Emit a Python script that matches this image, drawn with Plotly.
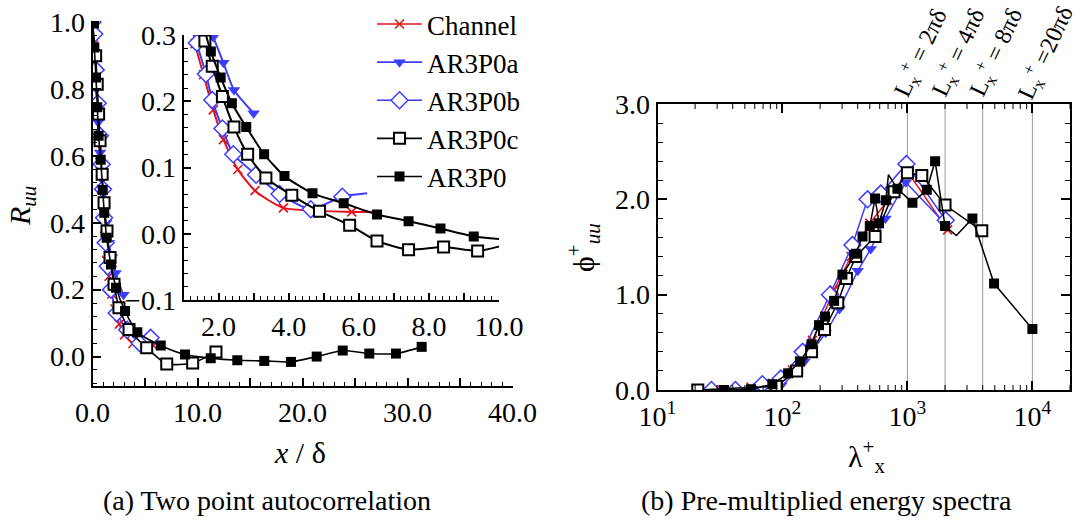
import math
import plotly.graph_objects as go

FONT = "Liberation Serif"
RED = "#e3121b"
BLUE = "#3d3dff"
BLACK = "#000000"
W, H = 1088, 525

# ---------------- (a) two-point autocorrelation, full range ----------------
chan_x = [0, 0.12, 0.25, 0.4, 0.55, 0.7, 0.85, 1.0, 1.15, 1.33, 1.57, 1.85, 2.14, 2.55, 3.04, 3.85, 5.8]
chan_r = [1.0, 0.93, 0.84, 0.75, 0.66, 0.58, 0.5, 0.43, 0.36, 0.287, 0.24, 0.187, 0.142, 0.097, 0.065, 0.039, 0.033]

a_x = [0, 0.2, 0.38, 0.55, 0.72, 0.9, 1.1, 1.3, 1.55, 1.85, 2.2, 2.95]
a_r = [1.0, 0.9, 0.8, 0.7, 0.61, 0.53, 0.46, 0.4, 0.34, 0.297, 0.25, 0.185]

b_x = [0, 0.17, 0.3, 0.5, 0.71, 0.87, 1.0, 1.1, 1.25, 1.45, 1.75, 2.3, 3.3, 4.5, 5.53]
b_r = [1.0, 0.964, 0.857, 0.757, 0.66, 0.575, 0.5, 0.415, 0.34, 0.27, 0.2, 0.13, 0.08, 0.04, 0.056]

c_x = [0, 0.3, 0.45, 0.58, 0.72, 0.92, 1.1, 1.38, 1.67, 2.05, 2.52, 3.48, 5.16, 7.07, 9.54, 11.76]
c_r = [1.0, 0.899, 0.814, 0.725, 0.645, 0.545, 0.46, 0.375, 0.296, 0.216, 0.146, 0.081, 0.026, -0.022, -0.019, 0.014]

p_x = [0, 0.17, 0.33, 0.46, 0.58, 0.78, 0.97, 1.12, 1.35, 1.76, 2.24, 3.1, 4.27, 6.5, 8.81,
       11.26, 13.79, 16.36, 18.9, 21.35, 23.83, 26.36, 28.9, 31.35]
p_r = [1.0, 0.924, 0.834, 0.745, 0.66, 0.588, 0.498, 0.43, 0.355, 0.275, 0.206, 0.136, 0.073, 0.033, 0.006,
       -0.005, -0.011, -0.013, -0.016, 0.0, 0.018, 0.009, 0.009, 0.029]

# ---------------- (a) inset, zoom on 1 < x/δ < 10 ----------------
chan_xi = [1.15, 1.33, 1.57, 1.85, 2.14, 2.55, 3.04, 3.85, 5.80, 6.42]
chan_ri = [0.36, 0.287, 0.240, 0.187, 0.142, 0.097, 0.065, 0.039, 0.033, 0.033]

a_xi = [1.55, 1.85, 2.14, 2.44, 3.0]
a_ri = [0.34, 0.297, 0.258, 0.217, 0.182]

b_xi = [1.2, 1.38, 1.64, 1.82, 2.11, 2.42, 3.07, 3.74, 4.63, 5.53, 6.24]
b_ri = [0.345, 0.288, 0.241, 0.202, 0.159, 0.120, 0.089, 0.060, 0.037, 0.056, 0.061]

c_xi = [1.38, 1.61, 1.82, 2.11, 2.44, 2.83, 3.35, 4.09, 4.88, 5.74, 6.52, 7.42, 8.42, 9.39, 10.3]
c_ri = [0.375, 0.291, 0.253, 0.207, 0.161, 0.12, 0.084, 0.058, 0.034, 0.013, -0.011, -0.024, -0.020, -0.026, -0.015]

p_xi = [1.35, 1.78, 2.06, 2.38, 2.79, 3.3, 3.88, 4.68, 5.57, 6.52, 7.42, 8.33, 9.28, 10.3]
p_ri = [0.355, 0.275, 0.236, 0.197, 0.161, 0.120, 0.087, 0.061, 0.046, 0.029, 0.019, 0.008, -0.004, -0.009]

# ---------------- (b) pre-multiplied spectra ----------------
chan_lam = [33, 56, 83, 120, 174, 259, 354, 500, 700, 1000, 2100]
chan_phi = [0.0, 0.03, 0.07, 0.21, 0.52, 1.05, 1.40, 1.75, 1.99, 2.29, 1.68]

a_lam = [56, 98, 150, 222, 286, 400, 509, 667, 971, 1950]
a_phi = [0.0, 0.05, 0.30, 0.60, 0.85, 1.25, 1.48, 1.80, 2.18, 1.76]

b_lam = [27, 42, 69, 97, 145, 240, 363, 480, 612, 982, 2027]
b_phi = [0.0, 0.0, 0.06, 0.12, 0.40, 1.0, 1.52, 2.0, 2.06, 2.37, 1.78]

c_lam = [21, 89, 130, 171, 217, 277, 325, 386, 551, 782, 1000, 1303, 2000, 3936]
c_phi = [0.0, 0.04, 0.20, 0.40, 0.635, 0.915, 1.17, 1.40, 1.61, 2.08, 2.28, 2.25, 1.94, 1.67]

p_lam = [34, 56, 83, 111, 138, 171, 196, 219, 259, 302, 386, 437, 500, 551, 593, 671, 705, 832,
         1097, 1429, 1665, 2000, 2466, 3311, 4936, 10000]
p_phi = [0.0, 0.007, 0.06, 0.175, 0.30, 0.48, 0.68, 0.77, 0.935, 1.21, 1.43, 1.61, 1.72, 2.01, 1.75, 1.99,
         2.26, 2.11, 1.965, 2.10, 2.40, 1.72, 1.62, 1.80, 1.117, 0.64]

# box lengths marked on the spectra
box_len = [1000, 2000, 4000, 10000]
box_txt = ["2πδ", "4πδ", "8πδ", "20πδ"]

lam_ticks = [10, 100, 1000, 10000]
lam_ticktext = ["10<sup>1</sup>", "10<sup>2</sup>", "10<sup>3</sup>", "10<sup>4</sup>"]
lam_minor = [m * 10 ** k for k in range(1, 5) for m in range(2, 10) if m * 10 ** k <= 20000]
LAM_RANGE = [1, math.log10(20000)]

names = ["Channel", "AR3P0a", "AR3P0b", "AR3P0c", "AR3P0"]

styles = {
    "Channel": dict(color=RED, marker=dict(symbol="x-thin", size=9, color=RED, opacity=1,
                                             line=dict(color=RED, width=1.6))),
    "AR3P0a": dict(color=BLUE, marker=dict(symbol="triangle-down", size=11, color=BLUE, opacity=1,
                                            line=dict(width=0))),
    "AR3P0b": dict(color=BLUE, marker=dict(symbol="diamond", size=13, color="white", opacity=1,
                                            line=dict(color=BLUE, width=1.5))),
    "AR3P0c": dict(color=BLACK, marker=dict(symbol="square", size=11, color="white", opacity=1,
                                             line=dict(color=BLACK, width=2))),
    "AR3P0": dict(color=BLACK, marker=dict(symbol="square", size=10, color=BLACK, opacity=1,
                                            line=dict(width=0))),
}


def sized(marker, n, bare):
    """Per-point symbol sizes; vertices listed in `bare` are drawn without a symbol."""
    m = dict(marker)
    m["size"] = [0 if i in bare else marker["size"] for i in range(n)]
    m["opacity"] = 1
    return m


fig = go.Figure()

main_sets = [(chan_x, chan_r), (a_x, a_r), (b_x, b_r), (c_x, c_r), (p_x, p_r)]
inset_sets = [(chan_xi, chan_ri), (a_xi, a_ri), (b_xi, b_ri), (c_xi, c_ri), (p_xi, p_ri)]
spec_sets = [(chan_lam, chan_phi), (a_lam, a_phi), (b_lam, b_phi), (c_lam, c_phi), (p_lam, p_phi)]

for name, (xs, ys) in zip(names, main_sets):
    st = styles[name]
    fig.add_trace(go.Scatter(
        x=xs, y=ys, name=name, mode="lines+markers", xaxis="x", yaxis="y",
        line=dict(color=st["color"], width=1.6, shape="spline", smoothing=0.6),
        marker=st["marker"], showlegend=True))

for name, (xs, ys) in zip(names, inset_sets):
    st = styles[name]
    # open-ended curves stop between two symbols
    bare = set() if name == "AR3P0a" else {len(xs) - 1}
    fig.add_trace(go.Scatter(
        x=xs, y=ys, name=name, mode="lines+markers", xaxis="x2", yaxis="y2",
        line=dict(color=st["color"], width=2, shape="spline", smoothing=0.6),
        marker=sized(st["marker"], len(xs), bare), showlegend=False))

for name, (xs, ys) in zip(names, spec_sets):
    st = styles[name]
    bare = {16, 22} if name == "AR3P0" else set()
    fig.add_trace(go.Scatter(
        x=xs, y=ys, name=name, mode="lines+markers", xaxis="x3", yaxis="y3",
        line=dict(color=st["color"], width=1.5),
        marker=sized(st["marker"], len(xs), bare), showlegend=False))


def px_x(p):
    return p / W


def px_y(p):
    return 1 - p / H


tickfont = dict(family=FONT, size=28, color="black")
axis_common = dict(showgrid=False, zeroline=False, showline=True, linecolor="black", automargin=False,
                   ticks="inside", tickcolor="black", tickfont=tickfont)

SPEC_TOP, SPEC_BOT = 104, 390

fig.update_layout(
    width=W, height=H, margin=dict(l=0, r=0, t=0, b=0, pad=0, autoexpand=False),
    paper_bgcolor="white", plot_bgcolor="rgba(0,0,0,0)",
    font=dict(family=FONT, color="black"),
    xaxis=dict(domain=[px_x(92.5), px_x(512.5)], range=[0, 40], anchor="y",
               tickvals=[0, 5, 10, 15, 20, 25, 30, 35, 40],
               ticktext=["0.0", "", "10.0", "", "20.0", "", "30.0", "", "40.0"],
               ticklen=8, tickwidth=1.5, linewidth=2,
               minor=dict(dtick=1, ticks="inside", ticklen=4, tickcolor="black", tickwidth=1),
               **axis_common),
    yaxis=dict(domain=[px_y(386), px_y(21)], range=[-0.088, 1.003], anchor="x",
               tick0=0, dtick=0.2, tickformat=".1f", ticklen=8, tickwidth=1.5, linewidth=2,
               minor=dict(dtick=0.04, tick0=0, ticks="inside", ticklen=4, tickcolor="black", tickwidth=1),
               **axis_common),
    xaxis2=dict(domain=[px_x(183.5), px_x(499)], range=[1, 10], anchor="y2",
                tickvals=[1, 2, 3, 4, 5, 6, 7, 8, 9, 10],
                ticktext=["", "2.0", "", "4.0", "", "6.0", "", "8.0", "", "10.0"],
                ticklen=7, tickwidth=1.5, linewidth=2,
                minor=dict(dtick=0.2, tick0=0, ticks="inside", ticklen=4, tickcolor="black", tickwidth=1),
                **axis_common),
    yaxis2=dict(domain=[px_y(300), px_y(35)], range=[-0.1, 0.3], anchor="x2",
                tick0=0, dtick=0.1, tickformat=".1f", ticklen=7, tickwidth=1.5, linewidth=2,
                minor=dict(dtick=0.02, tick0=0, ticks="inside", ticklen=4, tickcolor="black", tickwidth=1),
                **axis_common),
    xaxis3=dict(domain=[px_x(657.5), px_x(1070)], type="log", range=LAM_RANGE, anchor="y3",
                tickvals=lam_ticks, ticktext=lam_ticktext, ticklen=9, tickwidth=1.5, linewidth=2,
                mirror="ticks", **axis_common),
    yaxis3=dict(domain=[px_y(SPEC_BOT), px_y(SPEC_TOP)], range=[0, 3], anchor="x3",
                tick0=0, dtick=1, tickformat=".1f", ticklen=9, tickwidth=1.5, linewidth=2, mirror="ticks",
                minor=dict(dtick=0.2, tick0=0, ticks="inside", ticklen=5, tickcolor="black", tickwidth=1),
                **axis_common),
    legend=dict(x=px_x(372), y=1.0, xanchor="left", yanchor="top",
                bgcolor="rgba(0,0,0,0)", borderwidth=0, itemwidth=45,
                font=dict(family=FONT, size=27, color="black"), tracegroupgap=0),
)

# logarithmic minor ticks on the bottom and top frame of the spectra panel
minor_len = 5 / (SPEC_BOT - SPEC_TOP)
for v in lam_minor:
    for y0, y1 in ((0, minor_len), (1 - minor_len, 1)):
        fig.add_shape(type="line", xref="x3", yref="y3 domain", x0=v, x1=v, y0=y0, y1=y1,
                      line=dict(color="black", width=1))

# reference lines for the streamwise box lengths
for L, t in zip(box_len, box_txt):
    fig.add_shape(type="line", xref="x3", yref="y3 domain", x0=L, x1=L, y0=0, y1=1,
                  line=dict(color="#9a9a9a", width=1), layer="below")
    sep = " =" if len(t) > 3 else " = "
    fig.add_annotation(xref="x3", yref="paper", x=math.log10(L), y=px_y(52), xshift=13,
                       text="L<sub>x</sub><sup>+</sup>" + sep + t, showarrow=False, textangle=-65,
                       xanchor="center", yanchor="middle",
                       font=dict(family=FONT, size=24, color="black"))

title_font = dict(family=FONT, size=30, color="black")
cap_font = dict(family=FONT, size=28, color="black")
texts = [
    dict(x=22, y=206, text="<i>R</i><sub><i>uu</i></sub>", textangle=-90, font=title_font),
    dict(x=300, y=452, text="<i>x</i> / δ", textangle=0, font=title_font),
    dict(x=584, y=248, text="ϕ<sup>+</sup><sub><i>uu</i></sub>", textangle=-90, font=title_font),
    dict(x=866, y=456, text="λ<sup>+</sup><sub>x</sub>", textangle=0, font=title_font),
    dict(x=267, y=500, text="(a) Two point autocorrelation", textangle=0, font=cap_font),
    dict(x=826, y=500, text="(b) Pre-multiplied energy spectra", textangle=0, font=cap_font),
]
for t in texts:
    fig.add_annotation(xref="paper", yref="paper", x=px_x(t["x"]), y=px_y(t["y"]), text=t["text"],
                       textangle=t["textangle"], showarrow=False, xanchor="center", yanchor="middle",
                       font=t["font"])

fig.write_html("out.html")
